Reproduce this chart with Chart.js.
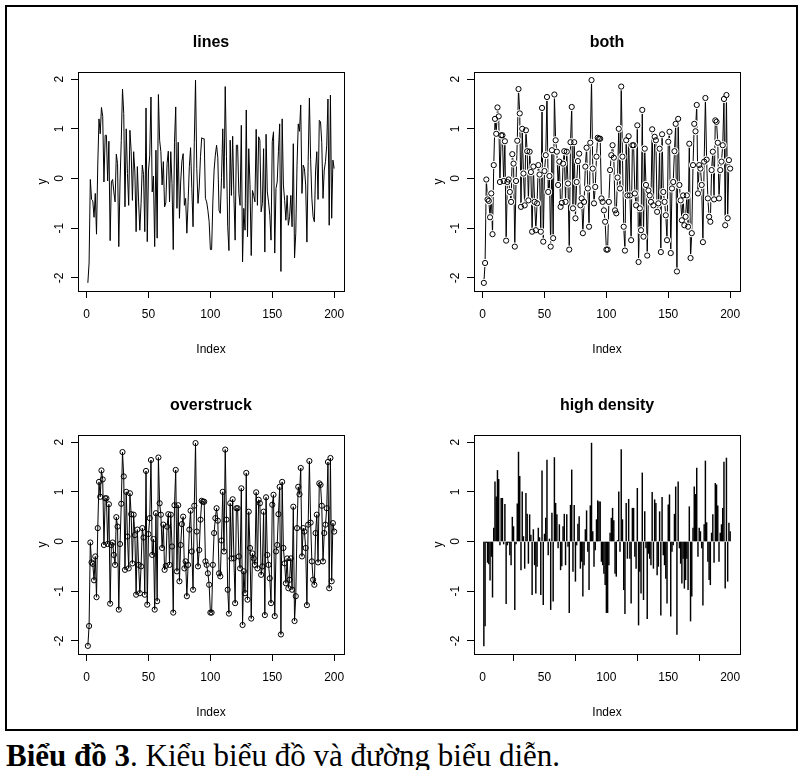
<!DOCTYPE html>
<html>
<head>
<meta charset="utf-8">
<script src="https://cdn.jsdelivr.net/npm/chart.js@4.4.1/dist/chart.umd.min.js"></script>
<style>
body{margin:0;background:#fff;width:801px;height:770px;position:relative;overflow:hidden;font-family:"Liberation Sans",Arial,sans-serif}
#frame{position:absolute;left:5px;top:5px;width:789px;height:722px;border:2px solid #000}
.panel{position:absolute}
#caption{position:absolute;left:6px;top:739px;font-family:"Liberation Serif","Times New Roman",serif;font-size:31px;line-height:34px;white-space:nowrap;color:#000}
</style>
</head>
<body>
<div id="frame"></div>
<canvas class="panel" id="c1" width="400" height="365" style="left:0;top:0"></canvas>
<canvas class="panel" id="c2" width="400" height="365" style="left:400px;top:0"></canvas>
<canvas class="panel" id="c3" width="400" height="365" style="left:0;top:363px"></canvas>
<canvas class="panel" id="c4" width="400" height="365" style="left:400px;top:363px"></canvas>
<div id="caption"><b>Biểu đồ 3</b>. Kiểu biểu đồ và đường biểu diễn.</div>
<script>
// values (index 1..200)
const yValues = [
  -2.10, -1.70, -0.02, -0.42, -0.45, -0.78, -0.30, -1.12, 0.27, 1.20,
  0.90, 1.43, 1.25, -0.07, 0.87, 0.87, -0.05, 0.75, -1.25, -0.07,
  -0.02, -0.27, -0.47, 0.49, 0.30, -1.37, -0.05, 0.76, 1.80, 1.31,
  -0.57, 1.00, 0.10, -0.54, 0.97, 0.55, -0.44, 0.54, 0.13, -1.07,
  0.24, -0.47, -1.04, -0.50, 0.27, 0.08, -1.07, 1.42, -1.27, 0.15,
  0.47, 1.64, -0.27, 0.05, -1.37, 0.57, -1.20, 1.69, 0.77, 0.54,
  -0.13, 0.34, -0.57, -0.49, 0.30, 0.55, -0.47, 0.54, -0.10, -1.43,
  0.73, 1.44, -0.60, 0.73, -0.80, -0.07, 0.35, 0.50, -0.54, -0.40,
  -1.10, -0.47, 0.24, 0.62, -0.20, -0.97, 0.72, 1.98, 0.20, -0.50,
  -0.17, 0.44, 0.82, 0.80, 0.80, -0.40, -0.47, -0.64, -0.87, -1.43,
  -1.43, -0.47, 0.17, 0.47, 0.67, 0.42, -0.64, -0.70, 0.02, 1.00,
  -0.20, 1.85, 0.44, -0.97, -1.45, 0.77, -0.34, 0.85, -0.34, -1.24,
  0.67, 0.67, -0.30, -0.54, 1.07, -1.68, -0.60, -1.04, 1.38, -1.17,
  0.60, -0.13, -1.55, -0.24, -0.34, -0.47, 0.99, -0.54, 0.84, 0.77,
  -0.67, -0.50, 0.60, -1.48, 0.89, -0.27, -0.47, -0.74, -1.24, 0.74,
  0.94, -1.50, -0.20, -0.07, 0.55, 1.10, -1.87, 1.20, -0.13, -0.44,
  -0.84, -0.34, -0.94, -0.77, -0.34, -0.97, 0.70, -1.60, -1.10, 0.27,
  1.10, 0.95, 1.48, -0.30, 0.27, 0.20, -0.13, -1.28, 0.34, 1.62,
  0.38, -0.40, -0.77, -0.87, 0.17, 0.54, -0.42, 1.17, 1.14, 0.72,
  -0.40, 0.17, 0.34, 0.67, 1.60, -0.94, 1.68, -0.80, 0.37, 0.20
];
const xTicks = [0, 50, 100, 150, 200];
const yTicks = [-2, -1, 0, 1, 2];
const titles = ['lines', 'both', 'overstruck', 'high density'];
const xLabel = 'Index';
const yLabel = 'y';

const FONT = '"Liberation Sans", Arial, sans-serif';
const pts = yValues.map((v, i) => ({x: i + 1, y: v}));

// R pads the data range by 4% each side
const n = yValues.length;
const xMin = 1 - 0.04 * (n - 1), xMax = n + 0.04 * (n - 1);
const lo = Math.min(...yValues), hi = Math.max(...yValues);
const yMin = lo - 0.04 * (hi - lo), yMax = hi + 0.04 * (hi - lo);

const AXIS_W = 43, PLOT_W = 266;

const rStyle = {
  id: 'rStyle',
  afterDraw(chart, args, opts) {
    const {ctx, chartArea: a, scales: {y}} = chart;
    ctx.save();
    ctx.strokeStyle = '#000';
    ctx.lineWidth = 1;
    ctx.strokeRect(Math.round(a.left) + 0.5, Math.round(a.top) + 0.5,
      Math.round(a.right - a.left), Math.round(a.bottom - a.top));
    ctx.fillStyle = '#000';
    ctx.font = '12px ' + FONT;
    ctx.textAlign = 'center';
    ctx.textBaseline = 'middle';
    y.ticks.forEach(t => {
      ctx.save();
      ctx.translate(a.left - 18, y.getPixelForValue(t.value));
      ctx.rotate(-Math.PI / 2);
      ctx.fillText(String(t.value), 0, 0);
      ctx.restore();
    });
    ctx.font = 'bold 16px ' + FONT;
    ctx.fillText(opts.text, (a.left + a.right) / 2, 43);
    ctx.restore();
  }
};

function scales() {
  const grid = {drawOnChartArea: false, drawTicks: true, tickLength: 7, color: '#000', tickColor: '#000', lineWidth: 1};
  return {
    x: {
      type: 'linear', min: xMin, max: xMax, offset: false,
      afterBuildTicks: s => { s.ticks = xTicks.map(v => ({value: v})); },
      afterFit: s => { s.height = 74; },
      grid: grid, border: {display: false},
      ticks: {color: '#000', font: {family: FONT, size: 12}, padding: 9, maxRotation: 0, autoSkip: false},
      title: {display: true, text: xLabel, color: '#000', font: {family: FONT, size: 12}, padding: {top: 0, bottom: 8}}
    },
    y: {
      type: 'linear', min: yMin, max: yMax,
      afterBuildTicks: s => { s.ticks = yTicks.map(v => ({value: v})); },
      afterFit: s => { s.width = AXIS_W; },
      grid: grid, border: {display: false},
      ticks: {display: false},
      title: {display: true, text: yLabel, color: '#000', font: {family: FONT, size: 12}, padding: 0}
    }
  };
}

function makeChart(id, type, datasets, title, left) {
  return new Chart(document.getElementById(id), {
    type: type,
    data: {datasets: datasets},
    options: {
      responsive: false, animation: false, devicePixelRatio: 1,
      layout: {padding: {left: left, right: 400 - left - AXIS_W - PLOT_W, top: 72, bottom: 0}},
      scales: scales(),
      plugins: {legend: {display: false}, tooltip: {enabled: false}, rStyle: {text: title}}
    },
    plugins: [rStyle]
  });
}

const lineSet = {type: 'line', data: pts, borderColor: '#000', borderWidth: 1, pointRadius: 0, tension: 0};
const circles = {type: 'line', data: pts, showLine: false, pointRadius: 2.6, pointBorderWidth: 1,
  pointBorderColor: '#000', pointBackgroundColor: 'rgba(0,0,0,0)'};
const halo = {type: 'line', data: pts, showLine: false, pointRadius: 4, pointBorderWidth: 0,
  pointBackgroundColor: '#fff', pointBorderColor: '#fff'};

// left column box starts at x=78, right column at x=474
makeChart('c1', 'line', [lineSet], titles[0], 78 - AXIS_W);
makeChart('c2', 'line', [circles, halo, Object.assign({}, lineSet)], titles[1], 74 - AXIS_W);
makeChart('c3', 'line', [Object.assign({}, circles), Object.assign({}, lineSet)], titles[2], 78 - AXIS_W);
makeChart('c4', 'bar', [{data: pts, backgroundColor: '#000', borderWidth: 0, barThickness: 0.8}], titles[3], 74 - AXIS_W);
</script>
</body>
</html>
